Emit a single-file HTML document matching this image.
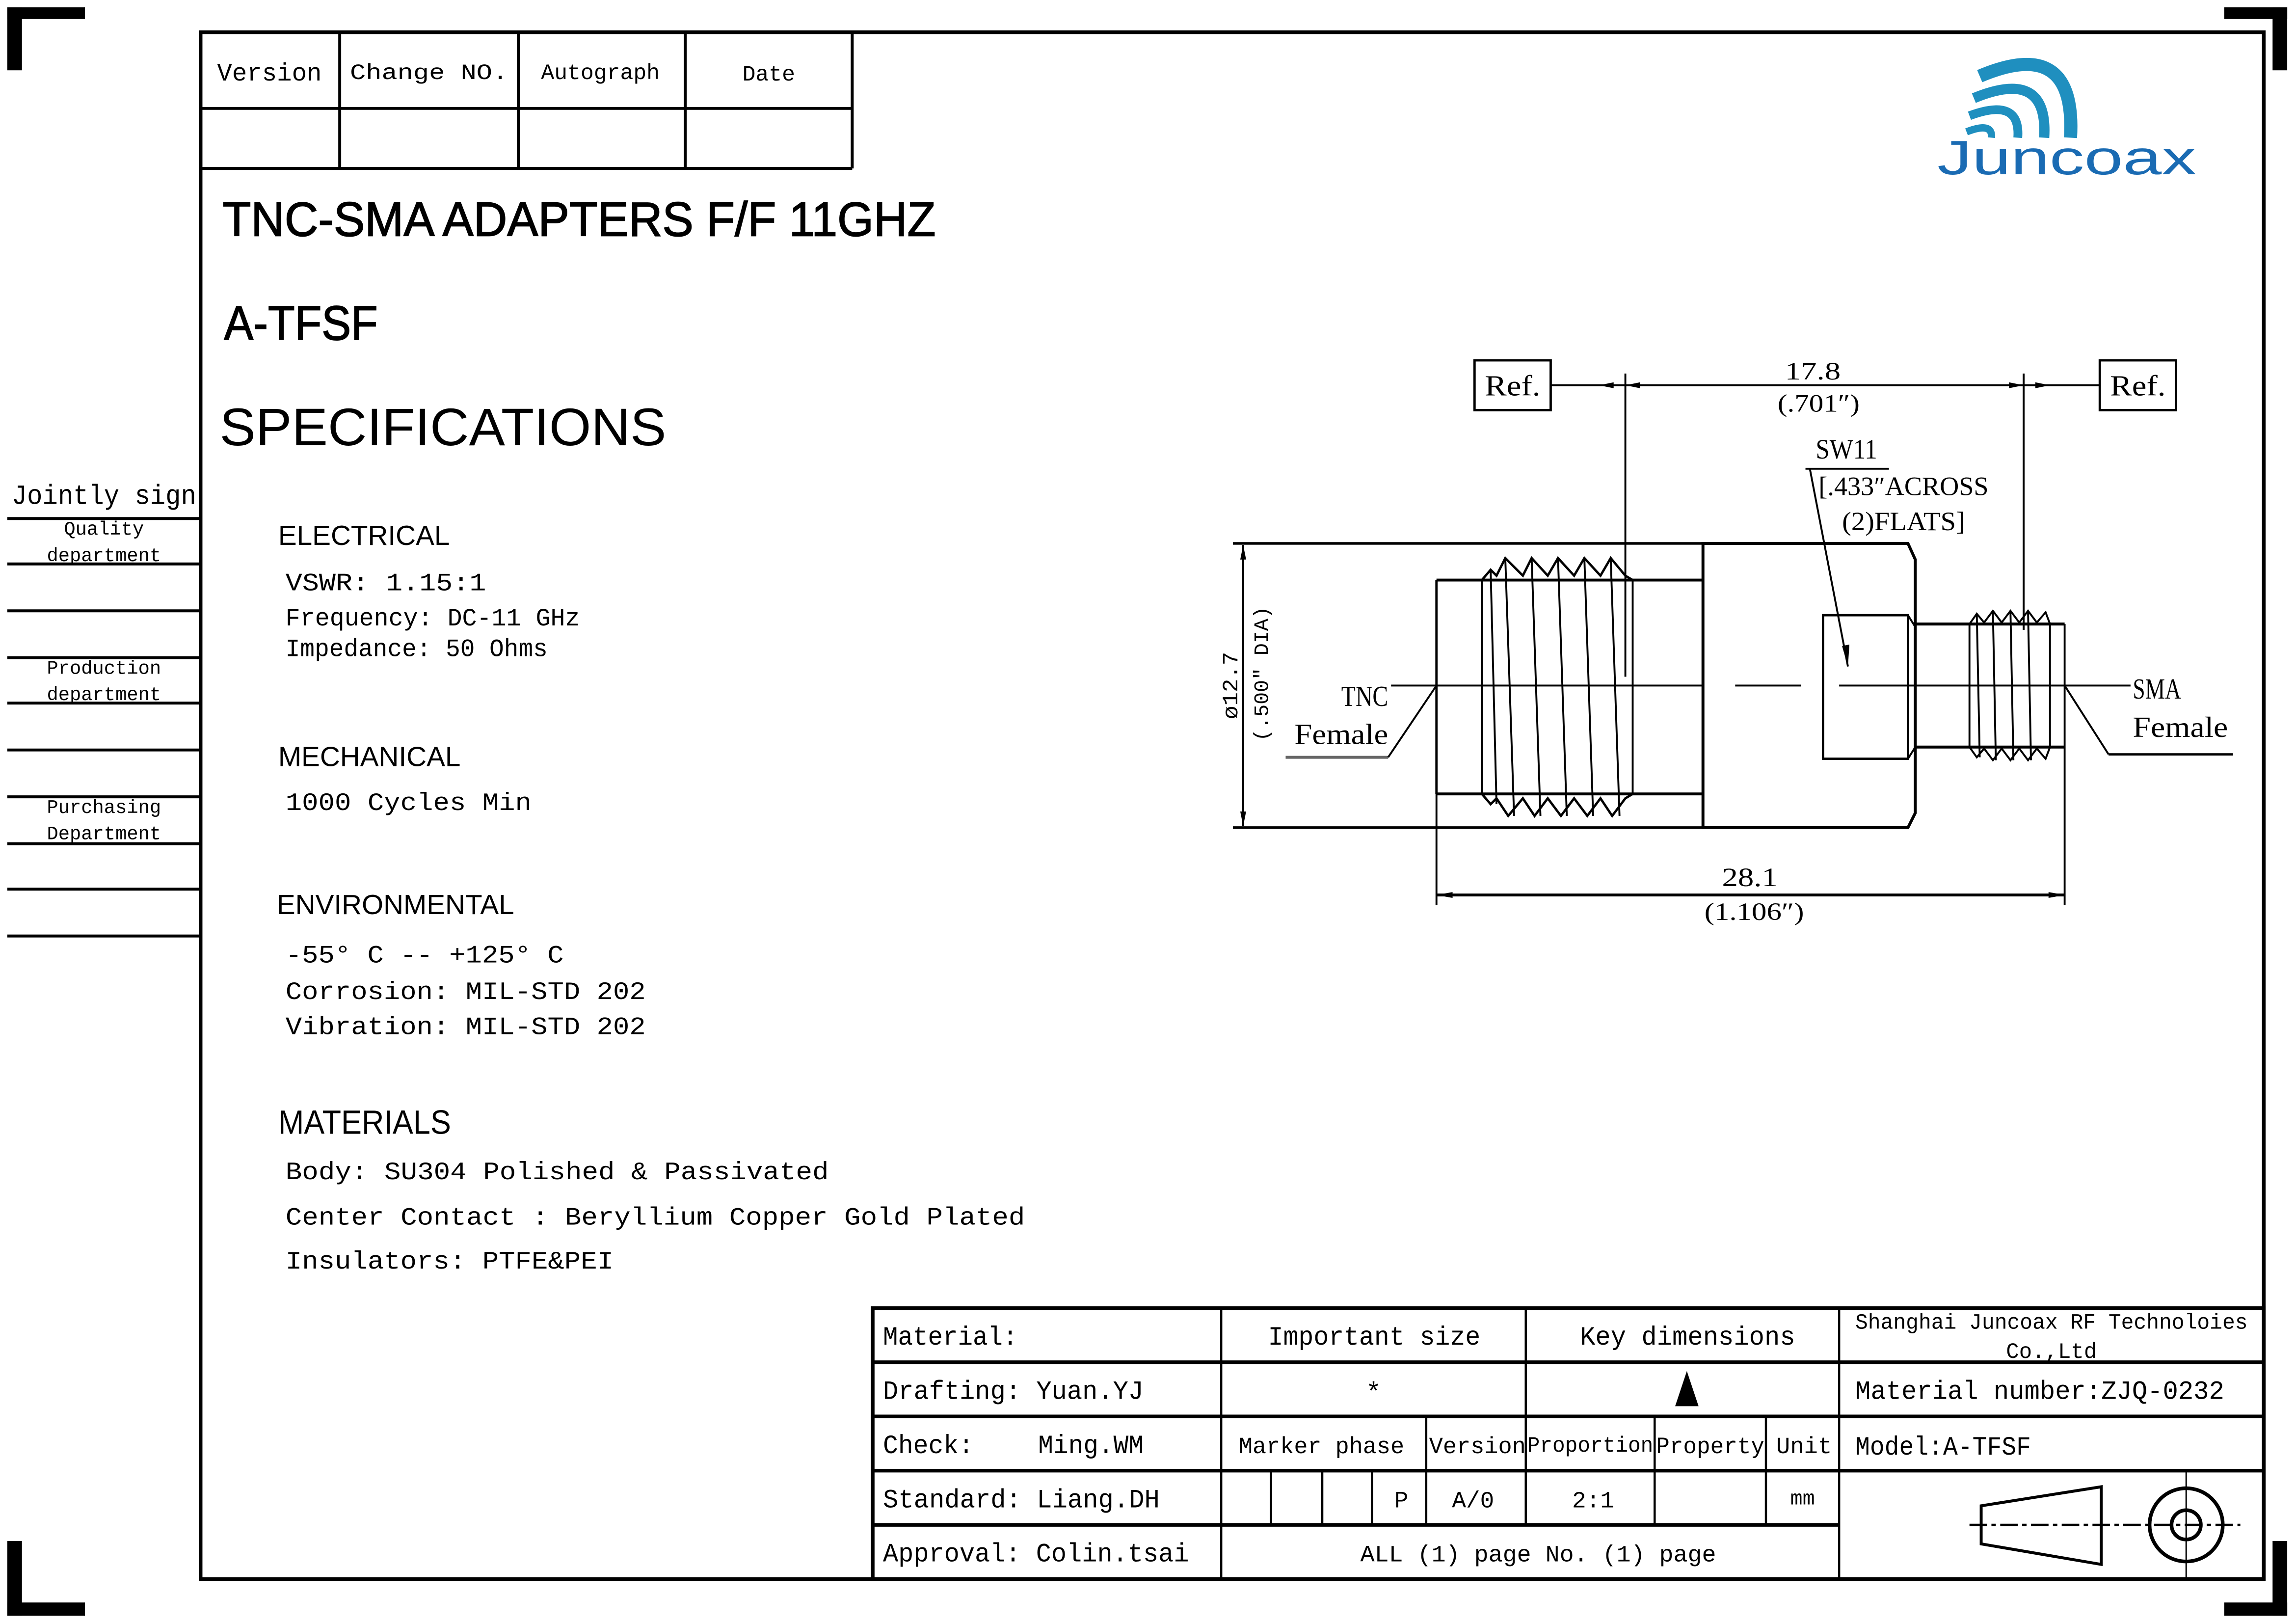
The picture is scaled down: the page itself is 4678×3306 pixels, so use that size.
<!DOCTYPE html>
<html><head><meta charset="utf-8"><style>
html,body{margin:0;padding:0;background:#fff}
svg{display:block}
.m{font-family:"Liberation Mono","Noto Sans CJK SC",monospace}
.s{font-family:"Liberation Sans",sans-serif}
.r{font-family:"Liberation Serif",serif}
</style></head><body>
<svg width="4678" height="3306" viewBox="0 0 1568 1108" preserveAspectRatio="none" xmlns="http://www.w3.org/2000/svg" xml:space="preserve">
<rect width="1568" height="1108" fill="#fff"/>
<g fill="#000">
<rect x="5" y="5" width="10" height="43"/><rect x="5" y="5" width="53" height="8"/>
<rect x="1552" y="5" width="10" height="43"/><rect x="1519" y="5" width="43" height="8"/>
<rect x="5" y="1052" width="10" height="51"/><rect x="5" y="1094" width="53" height="9"/>
<rect x="1552" y="1052" width="10" height="51"/><rect x="1519" y="1094" width="43" height="9"/>
</g>
<rect x="137" y="22" width="1409" height="1056" fill="none" stroke="#000" stroke-width="2.5"/>
<g stroke="#000" stroke-width="2" fill="none">
<line x1="137" y1="74" x2="582" y2="74"/><line x1="137" y1="115" x2="582" y2="115"/>
<line x1="582" y1="22" x2="582" y2="115"/>
<line x1="232" y1="22" x2="232" y2="115"/><line x1="354" y1="22" x2="354" y2="115"/><line x1="468" y1="22" x2="468" y2="115"/>
</g>
<g class="m" font-size="17" text-anchor="middle">
<text x="184" y="55">Version</text>
<text x="293" y="54" font-size="15" textLength="108" lengthAdjust="spacingAndGlyphs">Change  NO.</text>
<text x="410" y="54" font-size="15">Autograph</text>
<text x="525" y="55" font-size="15">Date</text>
</g>
<!-- logo -->
<g fill="none" stroke="#1f8fbf" stroke-linecap="butt">
<path d="M1352 52 Q1418 24 1414 94" stroke-width="9"/>
<path d="M1348 67 Q1399 46 1396 94" stroke-width="7"/>
<path d="M1345 79 Q1380 66 1378 94" stroke-width="6"/>
<path d="M1343 90 Q1361 83 1360 94" stroke-width="5"/>
</g>
<text x="1323" y="119" class="s" font-size="33" fill="#1a6bb3" textLength="177" lengthAdjust="spacingAndGlyphs">Juncoax</text>
<text x="152" y="161" class="s" font-size="33" textLength="487" lengthAdjust="spacingAndGlyphs" stroke="#000" stroke-width="0.6">TNC-SMA ADAPTERS  F/F 11GHZ</text>
<text x="153" y="232" class="s" font-size="33" textLength="105" lengthAdjust="spacingAndGlyphs" stroke="#000" stroke-width="0.6">A-TFSF</text>
<text x="150" y="304" class="s" font-size="36" textLength="305" lengthAdjust="spacingAndGlyphs">SPECIFICATIONS</text>
<text x="8" y="344" class="m" font-size="19" textLength="126" lengthAdjust="spacingAndGlyphs">Jointly sign</text>
<g stroke="#000" stroke-width="2">
<line x1="5" y1="354" x2="137" y2="354"/><line x1="5" y1="385" x2="137" y2="385"/>
<line x1="5" y1="417" x2="137" y2="417"/><line x1="5" y1="449" x2="137" y2="449"/>
<line x1="5" y1="480" x2="137" y2="480"/><line x1="5" y1="512" x2="137" y2="512"/>
<line x1="5" y1="544" x2="137" y2="544"/><line x1="5" y1="576" x2="137" y2="576"/>
<line x1="5" y1="607" x2="137" y2="607"/><line x1="5" y1="639" x2="137" y2="639"/>
</g>
<g class="m" font-size="13" text-anchor="middle">
<text x="71" y="365">Quality</text><text x="71" y="383">department</text>
<text x="71" y="460">Production</text><text x="71" y="478">department</text>
<text x="71" y="555">Purchasing</text><text x="71" y="573">Department</text>
</g>
<g class="s" font-size="19">
<text x="190" y="372">ELECTRICAL</text>
<text x="190" y="523">MECHANICAL</text>
<text x="189" y="624">ENVIRONMENTAL</text>
<text x="190" y="774" font-size="23" textLength="118" lengthAdjust="spacingAndGlyphs">MATERIALS</text>
</g>
<g class="m" font-size="17">
<text x="195" y="403" textLength="137" lengthAdjust="spacingAndGlyphs">VSWR:  1.15:1</text>
<text x="195" y="427" textLength="201" lengthAdjust="spacingAndGlyphs">Frequency: DC-11 GHz</text>
<text x="195" y="448" textLength="179" lengthAdjust="spacingAndGlyphs">Impedance: 50 Ohms</text>
<text x="195" y="553" textLength="168" lengthAdjust="spacingAndGlyphs">1000 Cycles Min</text>
<text x="195" y="657" textLength="190" lengthAdjust="spacingAndGlyphs">-55° C -- +125° C</text>
<text x="195" y="682" textLength="246" lengthAdjust="spacingAndGlyphs">Corrosion: MIL-STD 202</text>
<text x="195" y="706" textLength="246" lengthAdjust="spacingAndGlyphs">Vibration: MIL-STD 202</text>
<text x="195" y="805" textLength="371" lengthAdjust="spacingAndGlyphs">Body: SU304 Polished &amp; Passivated</text>
<text x="195" y="836" textLength="505" lengthAdjust="spacingAndGlyphs">Center Contact : Beryllium Copper Gold Plated</text>
<text x="195" y="866" textLength="224" lengthAdjust="spacingAndGlyphs">Insulators: PTFE&amp;PEI</text>
</g>
<g stroke="#000" fill="none" stroke-width="1.3">
<rect x="1007" y="246" width="52" height="34" stroke-width="1.6"/>
<rect x="1434" y="246" width="52" height="34" stroke-width="1.6"/>
<line x1="1059" y1="263" x2="1434" y2="263"/>
<line x1="1110" y1="255" x2="1110" y2="462"/>
<line x1="1382" y1="255" x2="1382" y2="430"/>
<line x1="842" y1="371" x2="1163" y2="371" stroke-width="1.8"/>
<line x1="842" y1="565" x2="1163" y2="565" stroke-width="1.8"/>
<line x1="849" y1="372" x2="849" y2="564"/>
<line x1="981" y1="396" x2="1163" y2="396" stroke-width="2"/>
<line x1="981" y1="542" x2="1163" y2="542" stroke-width="2"/>
<line x1="981" y1="396" x2="981" y2="542" stroke-width="1.6"/>
<line x1="1012" y1="396" x2="1012" y2="542"/>
<line x1="1115" y1="396" x2="1115" y2="542"/>
<path d="M1012 396 L1018 389 L1022 393 L1028 381 L1040 393 L1046 381 L1057 393 L1064 381 L1075 393 L1082 381 L1093 393 L1100 381 L1110 393 L1115 396" stroke-width="1.6"/>
<path d="M1012 542 L1018 549 L1022 545 L1030 557 L1040 545 L1048 557 L1057 545 L1066 557 L1075 545 L1084 557 L1093 545 L1101 557 L1110 545 L1115 542" stroke-width="1.6"/>
<path d="M1018 389 L1022 549 M1028 381 L1034 557 M1046 381 L1052 557 M1064 381 L1070 557 M1082 381 L1088 557 M1100 381 L1106 557"/>
<path d="M1163 371 L1303 371 L1308 382 L1308 555 L1303 565 L1163 565 Z" stroke-width="2"/>
<rect x="1245" y="420" width="58" height="98" stroke-width="1.6"/>
<line x1="1303" y1="420" x2="1308" y2="428"/><line x1="1303" y1="518" x2="1308" y2="510"/>
<line x1="1308" y1="426" x2="1410" y2="426" stroke-width="2"/>
<line x1="1308" y1="510" x2="1410" y2="510" stroke-width="2"/>
<line x1="1410" y1="426" x2="1410" y2="510"/>
<line x1="1345" y1="426" x2="1345" y2="510"/>
<line x1="1400" y1="426" x2="1400" y2="510"/>
<path d="M1345 426 L1350 419 L1355 425 L1361 417 L1367 425 L1373 417 L1379 425 L1385 417 L1391 425 L1397 418 L1400 426"/>
<path d="M1345 510 L1350 517 L1355 511 L1361 519 L1367 511 L1373 519 L1379 511 L1385 519 L1391 511 L1397 518 L1400 510"/>
<path d="M1350 419 L1352 517 M1361 417 L1363 519 M1373 417 L1375 519 M1385 417 L1387 519"/>
<line x1="950" y1="468" x2="1163" y2="468"/>
<line x1="1185" y1="468" x2="1230" y2="468"/>
<line x1="1256" y1="468" x2="1455" y2="468"/>
<line x1="1233" y1="320" x2="1290" y2="320"/>
<line x1="1236" y1="320" x2="1262" y2="455"/>
<line x1="878" y1="517" x2="948" y2="517" stroke="#666" stroke-width="2"/>
<line x1="948" y1="517" x2="981" y2="468"/>
<line x1="1440" y1="515" x2="1525" y2="515" stroke-width="1.6"/>
<line x1="1410" y1="468" x2="1440" y2="515"/>
<line x1="981" y1="542" x2="981" y2="618"/>
<line x1="1410" y1="510" x2="1410" y2="618"/>
<line x1="981" y1="611" x2="1410" y2="611" stroke-width="2"/>
</g>
<g fill="#000">
<path d="M1092 263 L1102 261 L1102 265Z"/><path d="M1110 263 L1120 261 L1120 265Z"/>
<path d="M1382 263 L1372 261 L1372 265Z"/><path d="M1400 263 L1390 261 L1390 265Z"/>
<path d="M849 372 L847 382 L851 382Z"/><path d="M849 564 L847 554 L851 554Z"/>
<path d="M981 611 L992 609 L992 613Z"/><path d="M1410 611 L1399 609 L1399 613Z"/>
<path d="M1262 455 L1258 441 L1263 440Z"/>
</g>
<g class="r" font-size="20" text-anchor="middle">
<text x="1033" y="270" textLength="38" lengthAdjust="spacingAndGlyphs">Ref.</text>
<text x="1460" y="270" textLength="38" lengthAdjust="spacingAndGlyphs">Ref.</text>
<text x="1238" y="259" font-size="17" textLength="38" lengthAdjust="spacingAndGlyphs">17.8</text>
<text x="1242" y="281" font-size="17" textLength="56" lengthAdjust="spacingAndGlyphs">(.701″)</text>
<text x="1261" y="313" font-size="19" textLength="42" lengthAdjust="spacingAndGlyphs">SW11</text>
<text x="1300" y="338" font-size="18" textLength="116" lengthAdjust="spacingAndGlyphs">[.433″ACROSS</text>
<text x="1300" y="362" font-size="18" textLength="84" lengthAdjust="spacingAndGlyphs">(2)FLATS]</text>
<text x="932" y="482" font-size="20" textLength="32" lengthAdjust="spacingAndGlyphs">TNC</text>
<text x="916" y="508" font-size="20" textLength="64" lengthAdjust="spacingAndGlyphs">Female</text>
<text x="1473" y="477" font-size="20" textLength="33" lengthAdjust="spacingAndGlyphs">SMA</text>
<text x="1489" y="503" font-size="20" textLength="65" lengthAdjust="spacingAndGlyphs">Female</text>
<text x="1195" y="605" font-size="18" textLength="38" lengthAdjust="spacingAndGlyphs">28.1</text>
<text x="1198" y="628" font-size="17" textLength="68" lengthAdjust="spacingAndGlyphs">(1.106″)</text>
</g>
<g class="m" font-size="15" text-anchor="middle">
<text transform="translate(845,468) rotate(-90)" y="0" textLength="46" lengthAdjust="spacingAndGlyphs">ø12.7</text>
<text transform="translate(866,460) rotate(-90)" y="0" font-size="14" textLength="92" lengthAdjust="spacingAndGlyphs">(.500" DIA)</text>
</g>
<g stroke="#000" fill="none">
<rect x="596" y="893" width="950" height="185" stroke-width="2.5"/>
<line x1="596" y1="930" x2="1546" y2="930" stroke-width="2.5"/>
<line x1="596" y1="967" x2="1546" y2="967" stroke-width="2.5"/>
<line x1="596" y1="1004" x2="1546" y2="1004" stroke-width="2.5"/>
<line x1="596" y1="1041" x2="1256" y2="1041" stroke-width="2.5"/>
<g stroke-width="1.5">
<line x1="834" y1="893" x2="834" y2="1078"/>
<line x1="1042" y1="893" x2="1042" y2="1041"/>
<line x1="1256" y1="893" x2="1256" y2="1078"/>
<line x1="974" y1="967" x2="974" y2="1041"/>
<line x1="1130" y1="967" x2="1130" y2="1041"/>
<line x1="1206" y1="967" x2="1206" y2="1041"/>
<line x1="868" y1="1004" x2="868" y2="1041"/>
<line x1="903" y1="1004" x2="903" y2="1041"/>
<line x1="937" y1="1004" x2="937" y2="1041"/>
</g>
</g>
<g class="m" font-size="18">
<text x="603" y="918" textLength="92" lengthAdjust="spacingAndGlyphs">Material:</text>
<text x="603" y="955" textLength="178" lengthAdjust="spacingAndGlyphs">Drafting: Yuan.YJ</text>
<text x="603" y="992" textLength="62" lengthAdjust="spacingAndGlyphs">Check:</text>
<text x="709" y="992" textLength="72" lengthAdjust="spacingAndGlyphs">Ming.WM</text>
<text x="603" y="1029" textLength="189" lengthAdjust="spacingAndGlyphs">Standard: Liang.DH</text>
<text x="603" y="1066" textLength="209" lengthAdjust="spacingAndGlyphs">Approval: Colin.tsai</text>
<text x="866" y="918" textLength="145" lengthAdjust="spacingAndGlyphs">Important size</text>
<text x="1079" y="918" textLength="147" lengthAdjust="spacingAndGlyphs">Key dimensions</text>
<text x="1267" y="907" font-size="15" textLength="268" lengthAdjust="spacingAndGlyphs">Shanghai Juncoax RF Technoloies</text>
<text x="1370" y="927" font-size="15" textLength="62" lengthAdjust="spacingAndGlyphs">Co.,Ltd</text>
<text x="1267" y="955" textLength="252" lengthAdjust="spacingAndGlyphs">Material number:ZJQ-0232</text>
<text x="1267" y="993" textLength="120" lengthAdjust="spacingAndGlyphs">Model:A-TFSF</text>
<text x="938" y="956" text-anchor="middle">*</text>
<text x="846" y="992" font-size="16" textLength="113" lengthAdjust="spacingAndGlyphs">Marker phase</text>
<text x="976" y="992" font-size="16" textLength="66" lengthAdjust="spacingAndGlyphs">Version</text>
<text x="1043" y="991" font-size="15" textLength="86" lengthAdjust="spacingAndGlyphs">Proportion</text>
<text x="1131" y="992" font-size="16" textLength="74" lengthAdjust="spacingAndGlyphs">Property</text>
<text x="1213" y="992" font-size="16" textLength="38" lengthAdjust="spacingAndGlyphs">Unit</text>
<text x="957" y="1029" font-size="16" text-anchor="middle">P</text>
<text x="1006" y="1029" font-size="16" text-anchor="middle">A/0</text>
<text x="1088" y="1029" font-size="16" text-anchor="middle">2:1</text>
<text x="1231" y="1027" font-size="14" text-anchor="middle">mm</text>
<text x="929" y="1066" font-size="16" textLength="243" lengthAdjust="spacingAndGlyphs">ALL (1) page  No. (1) page</text>
</g>
<path d="M1152 936 L1144 960 L1160 960Z" fill="#000"/>
<g stroke="#000" fill="none">
<path d="M1353 1028 L1435 1015 L1435 1068 L1353 1054 Z" stroke-width="2"/>
<line x1="1345" y1="1041" x2="1530" y2="1041" stroke-width="1.6" stroke-dasharray="12 3 3 3"/>
<circle cx="1493" cy="1041" r="25" stroke-width="2.5"/>
<circle cx="1493" cy="1041" r="10" stroke-width="2.5"/>
<line x1="1493" y1="1004" x2="1493" y2="1078" stroke-width="1"/>
</g>
</svg>
</body></html>
